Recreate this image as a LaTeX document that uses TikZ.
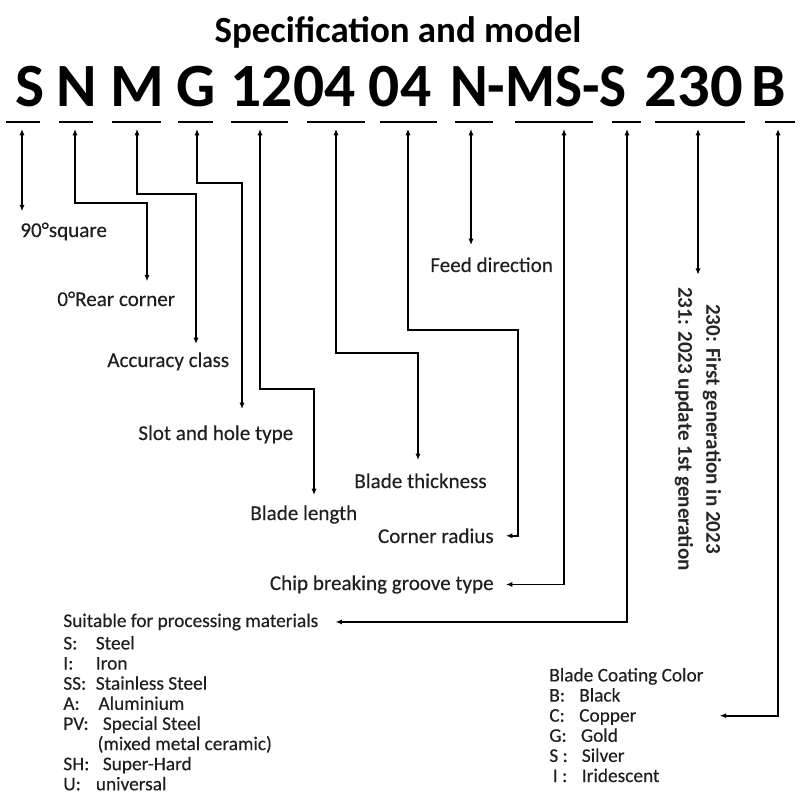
\documentclass[tikz,border=0pt]{standalone}
\usepackage{fontspec}
\setmainfont{Carlito}
\newfontfamily\labelfont[FakeBold=0.3]{Carlito}
\usetikzlibrary{arrows.meta,calc}

\tikzset{
  conn/.style={line width=0.9pt,{Latex[length=3.6pt,width=3pt]}-{Latex[length=3.6pt,width=3pt]}},
  uline/.style={line width=0.9pt},
  code/.style={font=\fontsize{35}{35}\selectfont\bfseries,inner sep=0pt,anchor=base},
  lbl/.style={font=\labelfont\fontsize{12}{14}\selectfont,text=black!88,inner sep=0pt,anchor=base west},
  lst/.style={font=\labelfont\fontsize{11}{11.45}\selectfont,text=black!88,inner sep=0pt},
}

\begin{document}
\begin{tikzpicture}[x=0.02cm,y=-0.02cm]
\useasboundingbox (0,0) rectangle (800,800);

% title and model code
\node[font=\fontsize{21}{21}\selectfont\bfseries,inner sep=0pt,anchor=base] (title) at (398,43) {Specification and model};
\node[code] (cS) at (30,107) {S};
\node[code] (cN) at (77,107) {N};
\node[code] (cM) at (137,107) {M};
\node[code] (cG) at (196.5,107) {G};
\node[code] (cSize) at (293,107) {1204};
\node[code] (cThick) at (400,107) {04};
\node[code] (cGroove) at (538.5,107) {\scalebox{0.93}[1]{N-MS-S}};
\node[code] (cGen) at (694,107) {\scalebox{1.05}[1]{230}};
\node[code] (cB) at (768.5,107) {B};

% underlines, one arrow start each
\foreach \a/\b/\m [count=\k] in {6/40/22, 59/93/75, 112/161/137, 178/213/197,
    231/288/260, 307/365/336, 380/437/408, 455/493/471, 515/593/564,
    612/641/627, 655/745/698, 765/795/778} {
  \draw[uline] (\a,122) -- (\b,122);
  \coordinate (u\k) at (\m,129);
}

% labels
\node[lbl] (sq) at (20,237) {90°square};
\node[lbl] (rear) at (57,306) {0°Rear corner};
\node[lbl] (acc) at (107,367) {Accuracy class};
\node[lbl] (slot) at (138,440) {Slot and hole type};
\node[lbl] (len) at (250,520) {Blade length};
\node[lbl] (thick) at (354,488) {Blade thickness};
\node[lbl] (feed) at (430,272) {Feed direction};
\node[lbl,anchor=base east] (rad) at (494,543) {Corner radius};
\node[lbl,anchor=base east] (chip) at (494,590) {Chip breaking groove type};
\node[font=\fontsize{12}{15.9}\selectfont\bfseries,text=black!85,inner sep=0pt,
  align=center,rotate=-90] (gen) at (698,429)
  {230: First generation in 2023\\231: 2023 update 1st generation};

\node[lst,anchor=base west] (mat) at (63,627) {Suitable for processing materials};
\node[lst,anchor=north west] (matl) at (63,635) {%
  \begin{tabular}{@{}p{18.5pt}@{}l@{}}
  S: & Steel\\
  I: & Iron\\
  SS: & Stainless Steel\\
  A: & \hspace{1.5pt}Aluminium\\
  PV: & \hspace{4pt}Special Steel\\
   & \hspace{1pt}(mixed metal ceramic)\\
  SH: & \hspace{4pt}Super-Hard\\
  U: & universal
  \end{tabular}};
\node[lst,anchor=north west] (coat) at (549,667) {%
  \begin{tabular}{@{}p{17pt}@{}l@{}}
  \multicolumn{2}{@{}l@{}}{Blade Coating Color}\\
  B: & Black\\
  C: & Copper\\
  G: & \hspace{1pt}Gold\\
  S : & \hspace{1.5pt}Silver\\
  \hspace{2pt}I : & \hspace{1.5pt}Iridescent
  \end{tabular}};

% bends
\coordinate (b2) at (147,203);
\coordinate (b3) at (196,194);
\coordinate (b4) at (242,183);
\coordinate (b5) at (314,389);
\coordinate (b6) at (418,353);
\coordinate (b7) at (518,330);

% connectors
\draw[conn] (u1) -- ($(u1 |- sq.north)+(0,-11)$);
\draw[conn] (u2) |- (b2) -- ($(b2 |- rear.north)+(0,-10)$);
\draw[conn] (u3) |- (b3) -- ($(b3 |- acc.north)+(0,-8)$);
\draw[conn] (u4) |- (b4) -- ($(b4 |- slot.north)+(0,-16)$);
\draw[conn] (u5) |- (b5) -- ($(b5 |- len.north)+(0,-10)$);
\draw[conn] (u6) |- (b6) -- ($(b6 |- thick.north)+(0,-13)$);
\draw[conn] (u7) |- (b7) |- ($(rad.east)+(12,0)$);
\draw[conn] (u8) -- ($(u8 |- feed.north)+(0,-12)$);
\draw[conn] (u9) |- ($(chip.east)+(12,0)$);
\draw[conn] (u10) |- ($(mat.east)+(17,0)$);
\draw[conn] (u11) -- ($(u11 |- gen.west)+(0,-12)$);
\draw[conn] (u12) |- ($(coat.east)+(16,-12)$);
\end{tikzpicture}
\end{document}
